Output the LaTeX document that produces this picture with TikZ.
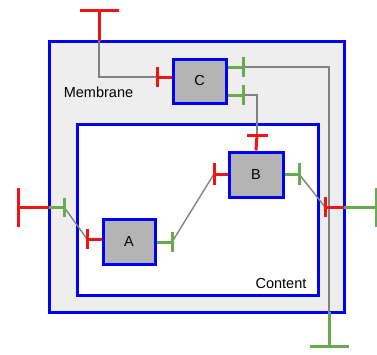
\documentclass[tikz,border=0pt]{standalone}
\usepackage{fontspec}
\setmainfont{Liberation Sans}
\usetikzlibrary{calc}
\definecolor{myblue}{RGB}{0,0,245}
\definecolor{myred}{RGB}{240,20,20}
\definecolor{mygreen}{RGB}{105,170,80}
\definecolor{boxgray}{RGB}{180,180,180}
\definecolor{membgray}{RGB}{238,238,238}
\definecolor{wire}{RGB}{130,130,130}
\tikzset{
  compbox/.style={draw=myblue, line width=3pt, fill=boxgray, inner sep=0pt, font=\fontsize{14.5}{16}\selectfont},
  region/.style={draw=myblue, line width=3pt, inner sep=0pt},
  redport/.style={draw=myred, line width=3pt},
  greenport/.style={draw=mygreen, line width=3pt},
  wireline/.style={draw=wire, line width=1.4pt},
  lbl/.style={font=\fontsize{14.5}{16}\selectfont, inner sep=0pt}
}
\begin{document}
\begin{tikzpicture}[x=1pt,y=-1pt]
\useasboundingbox (0,0) rectangle (377,354);
% regions
\node[region, fill=membgray, minimum width=295pt, minimum height=271pt] (memb) at (196.5,176.5) {};
\node[region, fill=white, minimum width=241pt, minimum height=171pt] (cont) at (197.5,209.5) {};
\node[lbl] (membl) at (98.5,92) {Membrane};
\node[lbl] (contl) at (281,284) {Content};
% port coordinates
\coordinate (topout) at (99,10);
\coordinate (topin) at (99,41);
\coordinate (cbendA) at (99,77);
\coordinate (cred) at (157,77);
\coordinate (cg1) at (243,67);
\coordinate (cg1b) at (329,67);
\coordinate (botin) at (329,312);
\coordinate (botout) at (329,346);
\coordinate (cg2) at (243,95);
\coordinate (cg2b) at (257,95);
\coordinate (bred) at (257,135);
\coordinate (bredl) at (214,174);
\coordinate (bgreen) at (299,174);
\coordinate (agreen) at (172,242);
\coordinate (ared) at (87,239);
\coordinate (lin) at (64,207);
\coordinate (lmem) at (49,207);
\coordinate (lout) at (18,207);
\coordinate (rin) at (325,207);
\coordinate (rmem) at (344,207);
\coordinate (rout) at (376,207);
% wires
\draw[wireline] (topin) -- (cbendA) -- (cred);
\draw[wireline] (cg1) -- (cg1b) -- (botin);
\draw[wireline] (cg2) -- (cg2b) -- (bred);
\draw[wireline] (agreen) -- (bredl);
\draw[wireline] (ared) -- (lin);
\draw[wireline] (bgreen) -- (rin);
% boxes
\node[compbox, minimum width=53pt, minimum height=44pt] (C) at (199.5,81) {C};
\node[compbox, minimum width=54pt, minimum height=45pt] (B) at (256,174.5) {B};
\node[compbox, minimum width=52pt, minimum height=45pt] (A) at (129,241.5) {A};
% ports on C
\draw[redport] (C.west |- cred) -- (cred);
\draw[redport] ($(cred)+(0,-10)$) -- ($(cred)+(0,10)$);
\draw[greenport] (C.east |- cg1) -- (cg1);
\draw[greenport] ($(cg1)+(0,-10)$) -- ($(cg1)+(0,10)$);
\draw[greenport] (C.east |- cg2) -- (cg2);
\draw[greenport] ($(cg2)+(0,-10)$) -- ($(cg2)+(0,10)$);
% ports on B
\draw[redport] (B.north) -- (bred);
\draw[redport] ($(bred)+(-10.5,0)$) -- ($(bred)+(10.5,0)$);
\draw[redport] (B.west |- bredl) -- (bredl);
\draw[redport] ($(bredl)+(0,-11)$) -- ($(bredl)+(0,11)$);
\draw[greenport] (B.east |- bgreen) -- (bgreen);
\draw[greenport] ($(bgreen)+(0,-11)$) -- ($(bgreen)+(0,11)$);
% ports on A
\draw[greenport] (A.east |- agreen) -- (agreen);
\draw[greenport] ($(agreen)+(0,-10)$) -- ($(agreen)+(0,10)$);
\draw[redport] (A.west |- ared) -- (ared);
\draw[redport] ($(ared)+(0,-10)$) -- ($(ared)+(0,10)$);
% membrane ports
\draw[redport] (topin) -- (topout);
\draw[redport] ($(topout)+(-19.5,0)$) -- ($(topout)+(19.5,0)$);
\draw[greenport] (botin) -- (botout);
\draw[greenport] ($(botout)+(-19.5,0)$) -- ($(botout)+(19.5,0)$);
\draw[greenport] (lmem) -- (lin);
\draw[greenport] ($(lin)+(0,-9.5)$) -- ($(lin)+(0,9.5)$);
\draw[redport] (lmem) -- (lout);
\draw[redport] ($(lout)+(0,-19.5)$) -- ($(lout)+(0,19.5)$);
\draw[redport] (rmem) -- (rin);
\draw[redport] ($(rin)+(0,-10)$) -- ($(rin)+(0,10)$);
\draw[greenport] (rmem) -- (rout);
\draw[greenport] ($(rout)+(0,-19.5)$) -- ($(rout)+(0,19.5)$);
\end{tikzpicture}
\end{document}
